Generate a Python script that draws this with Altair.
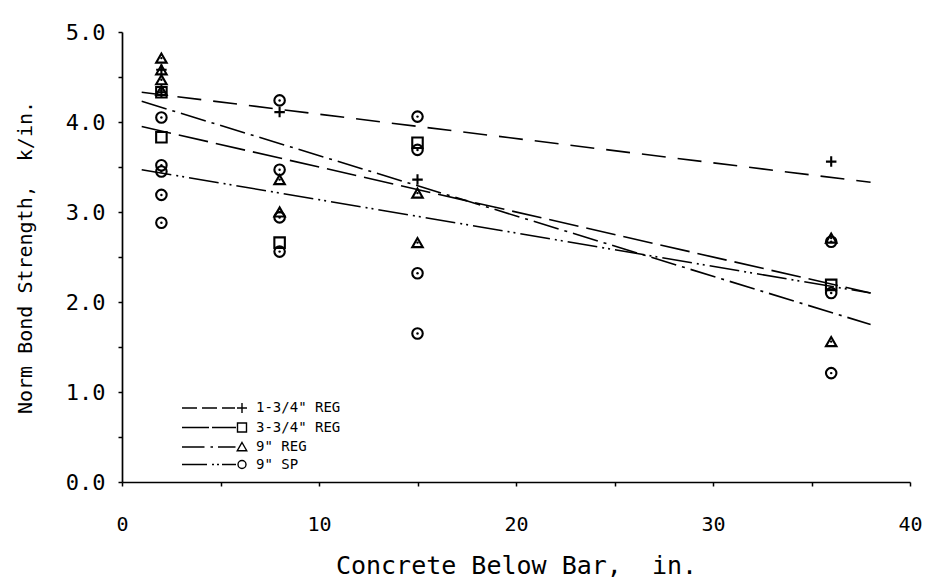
import altair as alt
import pandas as pd

FONT = "DejaVu Sans Mono"

series = ['1-3/4" REG', '3-3/4" REG', '9" REG', '9" SP']

# measured points
plus_x = [2, 2, 8, 15, 36]
plus_y = [4.58, 4.33, 4.11, 3.36, 3.56]
square_x = [2, 2, 8, 15, 36]
square_y = [4.33, 3.83, 2.66, 3.77, 2.19]
tri_x = [2, 2, 2, 2, 8, 8, 15, 15, 36, 36]
tri_y = [4.71, 4.58, 4.47, 4.35, 3.36, 3.00, 3.21, 2.66, 2.71, 1.56]
circ_x = [2, 2, 2, 2, 2, 8, 8, 8, 8, 15, 15, 15, 15, 36, 36, 36]
circ_y = [4.05, 3.52, 3.45, 3.19, 2.88, 4.24, 3.47, 2.94, 2.56, 4.06, 3.69, 2.32, 1.65, 2.67, 2.10, 1.21]

# fitted lines (end points)
line_x = [1, 38]
line_plus = [4.33, 3.33]
line_square = [3.95, 2.10]
line_tri = [4.23, 1.75]
line_circ = [3.47, 2.10]

pts = pd.concat([
    pd.DataFrame({"x": plus_x, "y": plus_y, "s": series[0]}),
    pd.DataFrame({"x": square_x, "y": square_y, "s": series[1]}),
    pd.DataFrame({"x": tri_x, "y": tri_y, "s": series[2]}),
    pd.DataFrame({"x": circ_x, "y": circ_y, "s": series[3]}),
], ignore_index=True)

dots = pts[pts["s"].isin([series[2], series[3]])]

lines = pd.concat([
    pd.DataFrame({"x": line_x, "y": line_plus, "s": series[0]}),
    pd.DataFrame({"x": line_x, "y": line_square, "s": series[1]}),
    pd.DataFrame({"x": line_x, "y": line_tri, "s": series[2]}),
    pd.DataFrame({"x": line_x, "y": line_circ, "s": series[3]}),
], ignore_index=True)

xscale = alt.Scale(domain=[0, 40], nice=False, zero=False)
yscale = alt.Scale(domain=[0, 5], nice=False, zero=False)

xaxis = alt.Axis(
    values=[0, 5, 10, 15, 20, 25, 30, 35, 40],
    labelExpr="datum.value % 10 === 0 ? datum.label : ''",
    title="Concrete Below Bar,\u00a0 in.", grid=False,
    labelFont=FONT, labelFontSize=20, labelColor="black", labelPadding=28,
    labelFontWeight="normal", labelFlush=False,
    titleFont=FONT, titleFontSize=25, titleFontWeight="normal", titleColor="black",
    titlePadding=19,
    domainColor="black", domainWidth=1.7, tickColor="black", tickWidth=1.5, tickSize=4,
)
yaxis = alt.Axis(
    values=[0, 0.5, 1, 1.5, 2, 2.5, 3, 3.5, 4, 4.5, 5],
    labelExpr="datum.value % 1 === 0 ? format(datum.value, '.1f') : ''",
    title="Norm Bond Strength,\u00a0 k/in.", grid=False,
    labelFont=FONT, labelFontSize=22, labelColor="black", labelPadding=13,
    labelFlush=False,
    titleFont=FONT, titleFontSize=20, titleFontWeight="normal", titleColor="black",
    titlePadding=30,
    domainColor="black", domainWidth=1.7, tickColor="black", tickWidth=1.5, tickSize=4,
)

PLUS = "M-1,0L1,0M0,-1L0,1"
shape_range = [PLUS, "square", "triangle-up", "circle"]

# legend glyphs: line style sample followed by the marker
g0 = "M-12,0L-9,0M-8,0L-5,0M-4,0L-1.4,0" + "M-1,0L1,0M0,-1L0,1"
g1 = "M-12,0L-6.6,0M-6,0L-1.2,0" + "M-0.9,-0.9L0.9,-0.9L0.9,0.9L-0.9,0.9Z"
g2 = "M-12,0L-7.5,0M-6.3,0L-5.8,0M-4.8,0L-1.3,0" + "M0,-0.9L0.95,0.75L-0.95,0.75Z"
g3 = "M-12,0L-7,0M-6,0L-5.6,0M-5,0L-4.6,0M-4,0L-1.2,0" + "M-0.8,0A0.8,0.8 0 1,0 0.8,0A0.8,0.8 0 1,0 -0.8,0Z"

legend = alt.Legend(
    title=None, orient="none", legendX=113, legendY=369,
    symbolSize=100, labelFont=FONT, labelFontSize=14, labelColor="black",
    labelOffset=7, rowPadding=3.5, padding=0,
    symbolStrokeColor="black", symbolStrokeWidth=1.4, symbolFillColor="transparent",
    symbolOpacity=1,
)

line_layer = alt.Chart(lines).mark_line(color="black", strokeWidth=1.6).encode(
    x=alt.X("x:Q", scale=xscale, axis=xaxis),
    y=alt.Y("y:Q", scale=yscale, axis=yaxis),
    strokeDash=alt.StrokeDash("s:N", scale=alt.Scale(domain=series, range=[
        [24, 12], [30, 8], [26, 6, 3, 6], [30, 5, 2, 4, 2, 5]]), legend=None),
    detail="s:N",
)

point_layer = alt.Chart(pts).mark_point(filled=False, color="black", strokeWidth=2.1, size=110, opacity=1).encode(
    x=alt.X("x:Q", scale=xscale),
    y=alt.Y("y:Q", scale=yscale),
    shape=alt.Shape("s:N", scale=alt.Scale(domain=series, range=shape_range), legend=None),
)

# legend-only layer: marks are pushed outside the clipped plot, only the legend shows
legend_layer = alt.Chart(pts).transform_calculate(off="-10").mark_point(
    filled=False, color="black", strokeWidth=1.4, size=100, opacity=1, clip=True
).encode(
    x=alt.X("x:Q", scale=xscale),
    y=alt.Y("off:Q", scale=yscale),
    shape=alt.Shape("s:N", scale=alt.Scale(domain=series, range=[g0, g1, g2, g3]), legend=legend),
)

dot_layer = alt.Chart(dots).mark_point(filled=True, color="black", size=6, shape="circle", opacity=1).encode(
    x=alt.X("x:Q", scale=xscale),
    y=alt.Y("y:Q", scale=yscale),
)

chart = alt.layer(line_layer, point_layer, dot_layer, legend_layer).resolve_scale(
    shape="independent"
).properties(
    width=788, height=450,
    autosize=alt.AutoSizeParams(type="none"),
    padding={"left": 122, "top": 32, "right": 16, "bottom": 101},
    background="white",
).configure_view(stroke=None)

chart.save("out.html", embed_options={"renderer": "svg", "actions": False})
